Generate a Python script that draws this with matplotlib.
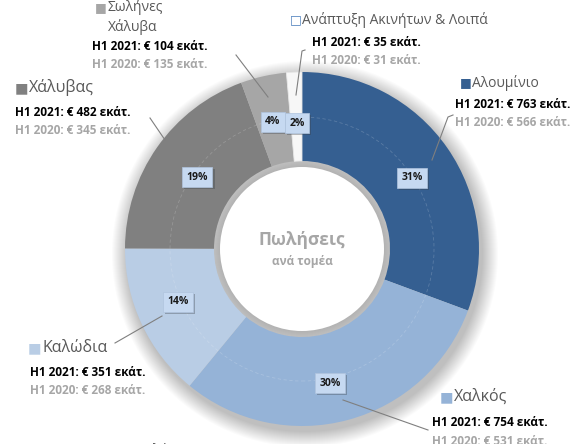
import matplotlib
matplotlib.use('Agg')
import matplotlib.pyplot as plt
from matplotlib.patches import Circle
import matplotlib.patheffects as pe

plt.rcParams['font.family'] = ['Open Sans', 'DejaVu Sans']

# segments, clockwise from 12 o'clock
sectors = ['Αλουμίνιο', 'Χαλκός', 'Καλώδια', 'Χάλυβας', 'Σωλήνες\nΧάλυβα', 'Ανάπτυξη Ακινήτων & Λοιπά']
sales_2021 = [763, 754, 351, 482, 104, 35]
sales_2020 = [566, 531, 268, 345, 135, 31]
pct_labels = ['31%', '30%', '14%', '19%', '4%', '2%']
colors = ['#355f91', '#95b3d7', '#b9cde5', '#808080', '#a6a6a6', '#f7f7f7']

W, H = 588, 444
def Y(y):
    return H - y

fig = plt.figure(figsize=(5.88, 4.44), dpi=100)
ax = fig.add_axes([0, 0, 1, 1])

cx, cy = 302, Y(249)
R, Rin = 177, 88

# soft shadow around the ring
for i in range(16):
    ax.add_patch(Circle((cx + 3, cy - 5), R + 16 - i, color='black', alpha=0.015, lw=0, zorder=0))

wedges, _ = ax.pie(sales_2021, colors=colors, startangle=90, counterclock=False,
                   radius=R, center=(cx, cy), frame=True,
                   wedgeprops=dict(width=R - Rin, edgecolor='none'))
wedges[-1].set_edgecolor('#e6e6e6')
wedges[-1].set_linewidth(0.6)
ax.set_xlim(0, W)
ax.set_ylim(0, H)
ax.set_aspect('equal')
ax.axis('off')

# faint dashed guide circle
ax.add_patch(Circle((cx, cy), 132, fill=False, ec='white', alpha=0.18, lw=0.6, ls=(0, (4, 3)), zorder=3))

# inner shading of the hole
for i in range(6):
    ax.add_patch(Circle((cx, cy), Rin - i, color='black', alpha=0.006, lw=0, zorder=3))
ax.add_patch(Circle((cx, cy), Rin - 6, color='white', lw=0, zorder=3))

ax.text(cx, Y(240), 'Πωλήσεις', ha='center', va='center', fontsize=12.5, fontweight='bold', color='#a6a6a6', zorder=5)
ax.text(cx, Y(262), 'ανά τομέα', ha='center', va='center', fontsize=8.5, fontweight='bold', color='#a6a6a6', zorder=5)

# percentage tags
pct_pos = [(412, 178), (330, 383), (178, 302), (197, 177), (273, 122), (297, 123)]
for (px, py), lab in zip(pct_pos, pct_labels):
    t = ax.text(px, Y(py), lab, ha='center', va='center', fontsize=7.5, fontweight='bold', color='#1a1a1a',
                bbox=dict(boxstyle='square,pad=0.45', fc='#c6d9f1', ec='#b0c4de', lw=0.5), zorder=6)
    t.get_bbox_patch().set_path_effects([pe.SimplePatchShadow(offset=(1.5, -1.5), alpha=0.35), pe.Normal()])

# leader lines
leaders = [
    [(453, 115), (448, 117), (432, 160)],
    [(343, 400), (428, 430)],
    [(115, 343), (162, 316)],
    [(150, 118), (165, 140)],
    [(236, 55), (268, 97)],
    [(305, 50), (302, 51), (296, 95)],
]
for pts in leaders:
    ax.plot([p[0] for p in pts], [Y(p[1]) for p in pts], color='#7f7f7f', lw=0.8, zorder=4)

# labels: (name position, name size, value position)
label_pos = [
    ((460, 83), 10, (455, 104)),
    ((440, 397), 11.5, (432, 423)),
    ((28, 348), 11.5, (30, 372)),
    ((15, 88), 11.5, (15, 112)),
    ((95, 8), 10, (92, 47)),
    ((290, 20), 10, (312, 43)),
]
marker_colors = ['#355f91', '#95b3d7', '#b9cde5', '#808080', '#a6a6a6', '#4f81bd']
for i, ((nx, ny), ns, (vx, vy)) in enumerate(label_pos):
    lines = sectors[i].split('\n')
    marker = '□' if i == 5 else '■'
    ax.text(nx, Y(ny), marker, ha='left', va='center', fontsize=ns * 0.9,
            color=marker_colors[i], zorder=7, family=['DejaVu Sans'])
    for k, ln in enumerate(lines):
        ax.text(nx + ns * 1.25, Y(ny + k * 19), ln, ha='left', va='center',
                fontsize=ns, color='#595959', zorder=7,
                bbox=dict(boxstyle='square,pad=0.1', fc='white', ec='none') if i in (1, 2) else None)
    ax.text(vx, Y(vy), 'H1 2021: € %d εκάτ.' % sales_2021[i], ha='left', va='center',
            fontsize=8.5, fontweight='bold', color='black', zorder=7)
    ax.text(vx, Y(vy + 18), 'H1 2020: € %d εκάτ.' % sales_2020[i], ha='left', va='center',
            fontsize=8.5, fontweight='bold', color='#a6a6a6', zorder=7)

# partly hidden label at the bottom edge
ax.text(117, Y(450), '■ Σωλήνες', ha='left', va='center', fontsize=10, color='#595959', zorder=7)

fig.savefig('out.png', dpi=100)
